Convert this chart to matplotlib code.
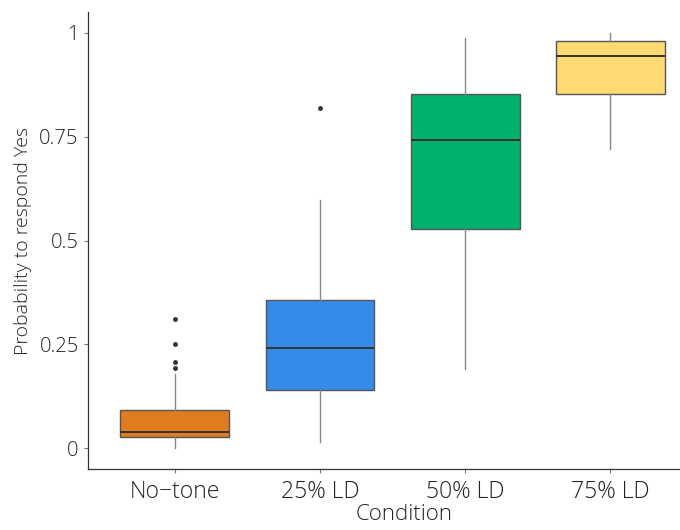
import matplotlib
matplotlib.use('Agg')
import matplotlib.pyplot as plt

plt.rcParams['font.family'] = ['Open Sans', 'DejaVu Sans']

conditions = ['No\u2212tone', '25% LD', '50% LD', '75% LD']
colors = ['#E07B1E', '#368BE8', '#00B06B', '#FFDA73']
# box stats
whisk_lo = [0.0, 0.015, 0.19, 0.721]
q1 = [0.027, 0.14, 0.527, 0.852]
med = [0.039, 0.242, 0.743, 0.944]
q3 = [0.091, 0.356, 0.853, 0.98]
whisk_hi = [0.18, 0.599, 0.987, 1.0]
outliers = [[0.1925, 0.208, 0.25, 0.311], [0.82], [], []]

stats = []
for i in range(len(conditions)):
    stats.append(dict(label=conditions[i], whislo=whisk_lo[i], q1=q1[i], med=med[i],
                      q3=q3[i], whishi=whisk_hi[i], fliers=outliers[i]))

fig = plt.figure(figsize=(6.8, 5.3), dpi=100)
ax = fig.add_axes([0.129, 0.115, 0.871, 0.862])

bp = ax.bxp(stats, positions=[1, 2, 3, 4], widths=0.75, patch_artist=True, showcaps=False,
            boxprops=dict(edgecolor='#555555', linewidth=1.0),
            medianprops=dict(color='#333333', linewidth=1.4),
            whiskerprops=dict(color='#888888', linewidth=1.0),
            flierprops=dict(marker='o', markersize=2.5, markerfacecolor='#333333',
                            markeredgecolor='#333333'))
for patch, c in zip(bp['boxes'], colors):
    patch.set_facecolor(c)

ax.set_xlim(0.4, 4.48)
ax.set_ylim(-0.05, 1.05)
ax.set_yticks([0, 0.25, 0.5, 0.75, 1])
ax.set_yticklabels(['0', '0.25', '0.5', '0.75', '1'])
ax.tick_params(axis='both', colors='#777777', labelcolor='#222222', length=3)
ax.tick_params(axis='y', labelsize=14.5)
ax.tick_params(axis='x', labelsize=16.5, pad=5)
for lab in ax.get_xticklabels() + ax.get_yticklabels():
    lab.set_fontweight('light')
for s in ['top', 'right']:
    ax.spines[s].set_visible(False)
for s in ['left', 'bottom']:
    ax.spines[s].set_color('#333333')
    ax.spines[s].set_linewidth(0.9)

# original plot is cut on the right, so the title sits right of centre
ax.set_xlabel('Condition', fontsize=16, color='#222222', labelpad=0, fontweight='light',
              x=0.534)
ax.set_ylabel('Probability to respond Yes', fontsize=14, color='#222222', labelpad=5,
              fontweight='light')

fig.savefig('out.png', dpi=100)
